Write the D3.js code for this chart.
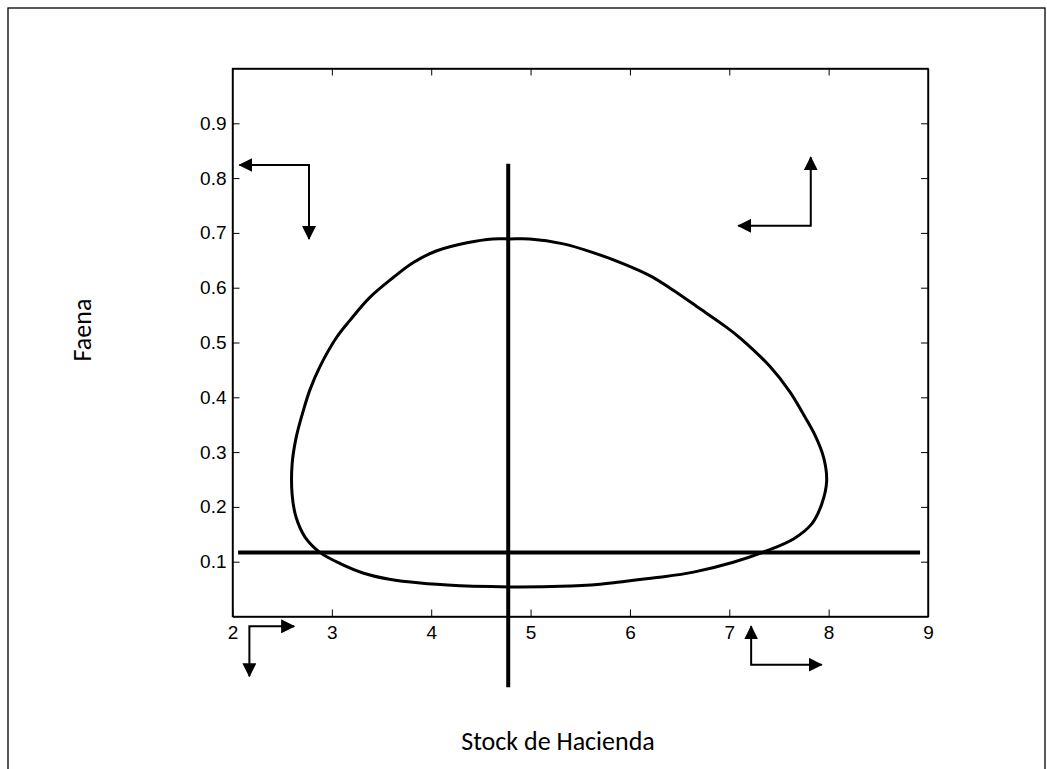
<!DOCTYPE html>
<html>
<head>
<meta charset="utf-8">
<script src="https://cdn.jsdelivr.net/npm/d3@7"></script>
<style>
  body { margin: 0; background: #fff; }
  svg { display: block; }
  .title { font-family: Carlito, Calibri, Lato, sans-serif; font-size: 26px; fill: #000; }
  .axis text { font-family: "Liberation Sans", Arial, sans-serif; font-size: 19px; fill: #000; }
</style>
</head>
<body>
<div id="chart"></div>
<script>
// axis ticks
const xTicks = [2, 3, 4, 5, 6, 7, 8, 9]
const yTicks = [0.1, 0.2, 0.3, 0.4, 0.5, 0.6, 0.7, 0.8, 0.9]

// closed loop (Stock de Hacienda, Faena), read clockwise from the top
const loopX = [4.79, 4.99, 5.33, 5.63, 5.93, 6.20, 6.44, 6.71, 6.97, 7.11, 7.41, 7.61, 7.73, 7.86, 7.95, 7.98,
  7.93, 7.83, 7.65, 7.38, 7.04, 6.64, 6.27, 5.90, 5.70, 5.30, 4.89, 4.42, 4.29, 3.89, 3.58, 3.32, 3.09,
  2.88, 2.73, 2.64, 2.60, 2.60, 2.64, 2.71, 2.78, 2.88, 3.05, 3.18, 3.38, 3.62, 3.82, 4.05, 4.36, 4.62]
const loopY = [0.689, 0.689, 0.680, 0.664, 0.644, 0.622, 0.595, 0.561, 0.528, 0.508, 0.456, 0.410, 0.374, 0.332, 0.290, 0.247,
  0.205, 0.169, 0.142, 0.120, 0.099, 0.081, 0.071, 0.063, 0.059, 0.055, 0.054, 0.055, 0.056, 0.061, 0.068, 0.079, 0.096,
  0.117, 0.145, 0.181, 0.223, 0.278, 0.326, 0.374, 0.414, 0.456, 0.510, 0.540, 0.582, 0.619, 0.646, 0.667, 0.682, 0.689]

// the two thick reference lines
const vLine = [[4.775, 0.826], [4.775, -0.129]]
const hLine = [[2.056, 0.117], [8.92, 0.117]]

// direction arrows (heads at both ends)
const arrows = [
  [[2.07, 0.824], [2.77, 0.824], [2.77, 0.689]],
  [[7.09, 0.713], [7.82, 0.713], [7.82, 0.838]],
  [[2.62, -0.018], [2.17, -0.018], [2.17, -0.109]],
  [[7.22, -0.018], [7.22, -0.088], [7.93, -0.088]]
]

const W = 1047, H = 769
const margin = { top: 68.5, right: 119, bottom: 152.5, left: 232.5 }
const width = W - margin.left - margin.right
const height = H - margin.top - margin.bottom

const svg = d3.select("#chart").append("svg")
  .attr("width", W)
  .attr("height", H)

// outer frame
svg.append("rect")
  .attr("x", 8).attr("y", 8)
  .attr("width", 1037).attr("height", 800)
  .attr("fill", "none")
  .attr("stroke", "#000")
  .attr("stroke-width", 1.3)

const defs = svg.append("defs")
defs.append("marker")
  .attr("id", "head")
  .attr("viewBox", "0 -7 14 14")
  .attr("refX", 13)
  .attr("refY", 0)
  .attr("markerUnits", "userSpaceOnUse")
  .attr("markerWidth", 14)
  .attr("markerHeight", 14)
  .attr("orient", "auto-start-reverse")
  .append("path")
  .attr("d", "M0,-7L14,0L0,7Z")
  .attr("fill", "#000")

const g = svg.append("g")
  .attr("transform", `translate(${margin.left},${margin.top})`)

const x = d3.scaleLinear().domain([2, 9]).range([0, width])
const y = d3.scaleLinear().domain([0, 1]).range([height, 0])

// box + inward ticks on all four sides
const tl = 7
g.append("g").attr("class", "axis").attr("transform", `translate(0,${height})`)
  .call(d3.axisBottom(x).tickValues(xTicks).tickSizeInner(-tl).tickSizeOuter(0).tickPadding(9).tickFormat(d3.format("d")))
g.append("g").attr("class", "axis")
  .call(d3.axisTop(x).tickValues(xTicks.slice(1, -1)).tickSizeInner(-tl).tickSizeOuter(0).tickFormat(""))
g.append("g").attr("class", "axis")
  .call(d3.axisLeft(y).tickValues(yTicks).tickSizeInner(-tl).tickSizeOuter(0).tickPadding(6).tickFormat(d3.format(".1f")))
g.append("g").attr("class", "axis").attr("transform", `translate(${width},0)`)
  .call(d3.axisRight(y).tickValues(yTicks).tickSizeInner(-tl).tickSizeOuter(0).tickFormat(""))

g.selectAll(".axis").attr("font-size", null).attr("font-family", null)
g.selectAll(".domain").attr("stroke", "#000").attr("stroke-width", 1.4)
g.selectAll(".tick line").attr("stroke", "#000").attr("stroke-width", 1)

g.append("rect")
  .attr("width", width).attr("height", height)
  .attr("fill", "none").attr("stroke", "#000").attr("stroke-width", 1.4)

const line = d3.line().x(d => x(d[0])).y(d => y(d[1]))

const loop = d3.zip(loopX, loopY)
g.append("path")
  .datum(loop)
  .attr("d", d3.line().x(d => x(d[0])).y(d => y(d[1])).curve(d3.curveCatmullRomClosed.alpha(0.5)))
  .attr("fill", "none")
  .attr("stroke", "#000")
  .attr("stroke-width", 3)

g.selectAll(".ref-line")
  .data([vLine, hLine])
  .join("path")
  .attr("class", "ref-line")
  .attr("d", line)
  .attr("fill", "none")
  .attr("stroke", "#000")
  .attr("stroke-width", 4)

g.selectAll(".arrow")
  .data(arrows)
  .join("path")
  .attr("class", "arrow")
  .attr("d", line)
  .attr("fill", "none")
  .attr("stroke", "#000")
  .attr("stroke-width", 2)
  .attr("marker-start", "url(#head)")
  .attr("marker-end", "url(#head)")

// axis titles
svg.append("text")
  .attr("class", "title")
  .attr("x", 558)
  .attr("y", 750)
  .attr("text-anchor", "middle")
  .text("Stock de Hacienda")

svg.append("text")
  .attr("class", "title")
  .attr("transform", "translate(91,330) rotate(-90)")
  .attr("text-anchor", "middle")
  .text("Faena")
</script>
</body>
</html>
